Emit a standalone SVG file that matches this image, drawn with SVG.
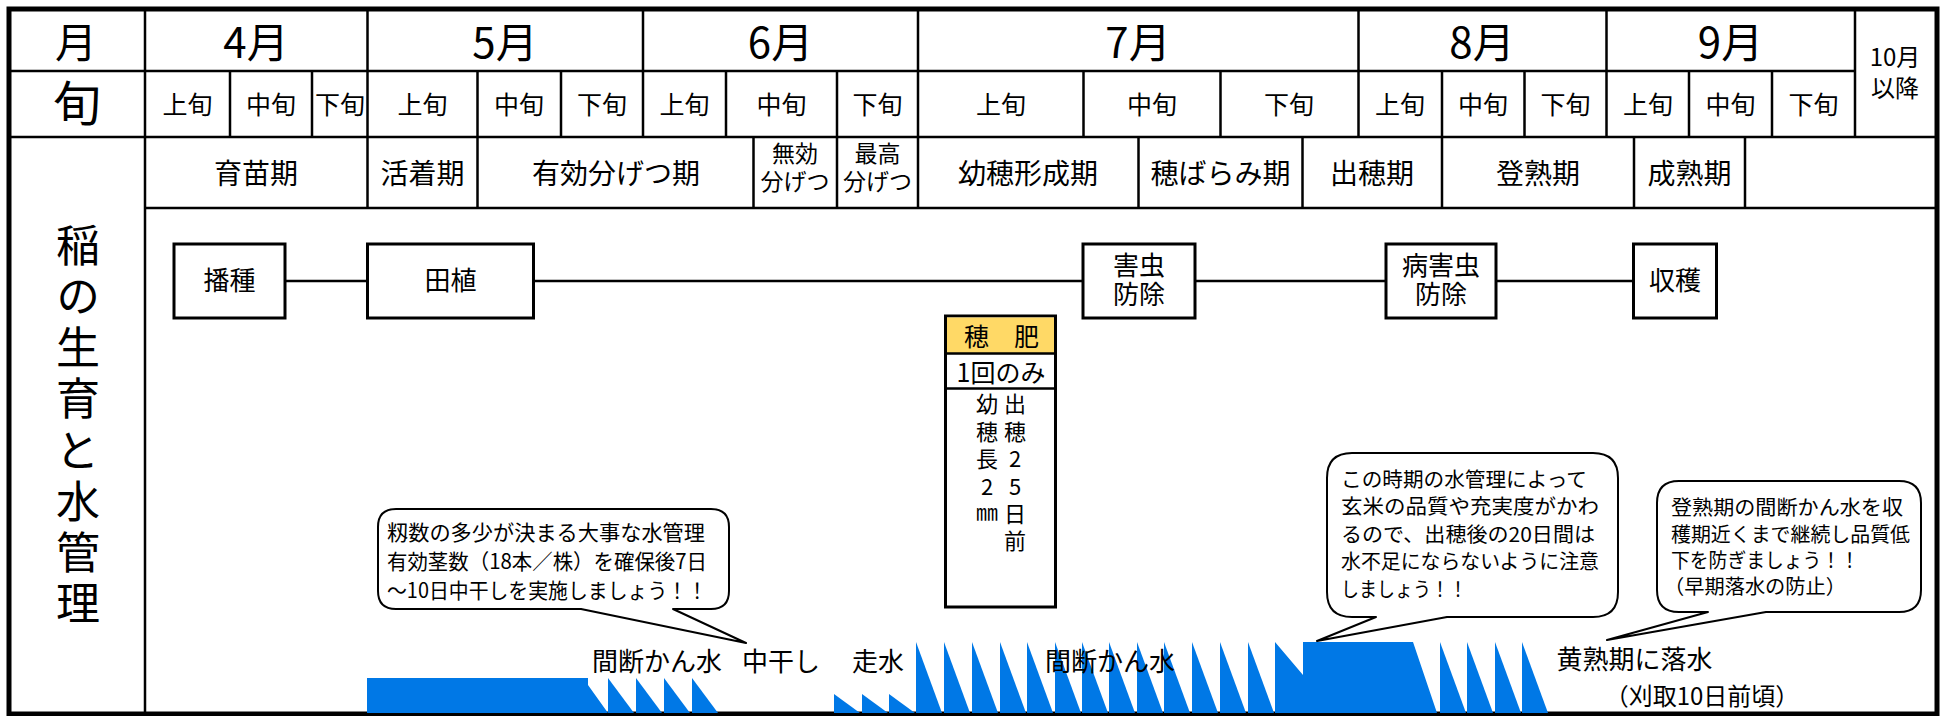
<svg xmlns="http://www.w3.org/2000/svg" width="1947" height="716" viewBox="0 0 1947 716">
<style>
.t{font-family:"Noto Sans CJK JP","Noto Sans",sans-serif;fill:#000}
.c{text-anchor:middle}
.v{writing-mode:vertical-rl;text-orientation:upright}
.ln{stroke:#000;stroke-width:2.5;fill:none}
.box{fill:#fff;stroke:#000;stroke-width:3}
.w{fill:#0078e6}
.bub{fill:#fff;stroke:#000;stroke-width:2;stroke-linejoin:round}
</style>
<rect width="1947" height="716" fill="#fff"/>
<g id="table">
<rect x="9" y="9" width="1928" height="705" fill="none" stroke="#000" stroke-width="5"/>
<path class="ln" d="M9,71H1855M9,137H1937M145,208H1937M145,9V714
M367.5,9V208M643,9V137M918,9V208M1358.5,9V137M1606.5,9V137M1855,9V137
M230,71V137M312,71V137M477.5,71V208M561,71V137M726,71V137M837,71V208M1083.5,71V137M1220.5,71V137M1442,71V208M1524.5,71V137M1689,71V137M1772,71V137
M753.5,137V208M1138.5,137V208M1302.5,137V208M1634,137V208M1745,137V208"/>
<g class="t c" font-size="42">
<text x="76" y="58">月</text>
<text x="256" y="58">4月</text>
<text x="505" y="58">5月</text>
<text x="780.5" y="58">6月</text>
<text x="1138" y="58">7月</text>
<text x="1482" y="58">8月</text>
<text x="1730.5" y="58">9月</text>
</g>
<text class="t c" x="77" y="121" font-size="48">旬</text>
<g class="t c" font-size="25">
<text x="187.5" y="114">上旬</text>
<text x="271" y="114">中旬</text>
<text x="340" y="114">下旬</text>
<text x="422.5" y="114">上旬</text>
<text x="519" y="114">中旬</text>
<text x="602" y="114">下旬</text>
<text x="684.5" y="114">上旬</text>
<text x="781.5" y="114">中旬</text>
<text x="877.5" y="114">下旬</text>
<text x="1001" y="114">上旬</text>
<text x="1152" y="114">中旬</text>
<text x="1289" y="114">下旬</text>
<text x="1400" y="114">上旬</text>
<text x="1483" y="114">中旬</text>
<text x="1565.5" y="114">下旬</text>
<text x="1648" y="114">上旬</text>
<text x="1730.5" y="114">中旬</text>
<text x="1813.5" y="114">下旬</text>
</g>
<g class="t c" font-size="24">
<text x="1895" y="66">10月</text>
<text x="1895" y="97">以降</text>
</g>
<g class="t c" font-size="28">
<text x="256" y="183.5">育苗期</text>
<text x="422.5" y="183.5">活着期</text>
<text x="616" y="183.5">有効分げつ期</text>
<text x="1028" y="183.5">幼穂形成期</text>
<text x="1220.5" y="183.5">穂ばらみ期</text>
<text x="1372" y="183.5">出穂期</text>
<text x="1538" y="183.5">登熟期</text>
<text x="1689.5" y="183.5">成熟期</text>
</g>
<g class="t c" font-size="23">
<text x="795" y="161.5">無効</text>
<text x="795" y="189.5">分げつ</text>
<text x="877.5" y="161.5">最高</text>
<text x="877.5" y="189.5">分げつ</text>
</g>
<text class="t v" x="78" y="223" font-size="44" style="letter-spacing:7.2px">稲の生育と水管理</text>
</g>
<g id="water">
<polygon class="w" points="367,678 588,678 588,685 608,713 367,713"/>
<polygon class="w" points="608,678 634,713 608,713"/>
<polygon class="w" points="636,678 662,713 636,713"/>
<polygon class="w" points="664,678 690,713 664,713"/>
<polygon class="w" points="692,678 718,713 692,713"/>
<polygon class="w" points="834,694 860,713 834,713"/>
<polygon class="w" points="862,694 888,713 862,713"/>
<polygon class="w" points="889,694 915,713 889,713"/>
<polygon class="w" points="916,642 942,713 916,713"/>
<polygon class="w" points="944,642 970,713 944,713"/>
<polygon class="w" points="972,642 998,713 972,713"/>
<polygon class="w" points="1000,642 1026,713 1000,713"/>
<polygon class="w" points="1027,642 1053,713 1027,713"/>
<polygon class="w" points="1055,642 1081,713 1055,713"/>
<polygon class="w" points="1082,642 1108,713 1082,713"/>
<polygon class="w" points="1109,642 1135,713 1109,713"/>
<polygon class="w" points="1137,642 1163,713 1137,713"/>
<polygon class="w" points="1164,642 1190,713 1164,713"/>
<polygon class="w" points="1192,642 1218,713 1192,713"/>
<polygon class="w" points="1220,642 1246,713 1220,713"/>
<polygon class="w" points="1248,642 1274,713 1248,713"/>
<polygon class="w" points="1275,642 1303,675 1303,642 1413,642 1437,713 1275,713"/>
<polygon class="w" points="1440,642 1466,713 1440,713"/>
<polygon class="w" points="1467,642 1493,713 1467,713"/>
<polygon class="w" points="1495,642 1521,713 1495,713"/>
<polygon class="w" points="1522,642 1548,713 1522,713"/>
</g>
<g id="water-labels" class="t c" font-size="26">
<text x="657" y="671">間断かん水</text>
<text x="781" y="671">中干し</text>
<text x="878" y="671">走水</text>
<text x="1110" y="671">間断かん水</text>
<text x="1634.5" y="669">黄熟期に落水</text>
<text x="1702" y="705" font-size="24">（刈取10日前頃）</text>
</g>
<g id="connectors">
<path class="ln" d="M286,281H367M534,281H1083M1195,281H1386M1496,281H1633"/>
</g>
<g id="node-seeding">
<rect class="box" x="174" y="244" width="111" height="74"/>
<text class="t c" x="229.5" y="290" font-size="26">播種</text>
</g>
<g id="node-planting">
<rect class="box" x="367.5" y="244" width="166" height="74"/>
<text class="t c" x="450.5" y="290" font-size="26">田植</text>
</g>
<g id="node-pest">
<rect class="box" x="1083" y="244" width="112" height="74"/>
<text class="t c" x="1139" y="275" font-size="26">害虫</text>
<text class="t c" x="1139" y="304" font-size="26">防除</text>
</g>
<g id="node-disease">
<rect class="box" x="1386" y="244" width="110" height="74"/>
<text class="t c" x="1441" y="275" font-size="26">病害虫</text>
<text class="t c" x="1441" y="304" font-size="26">防除</text>
</g>
<g id="node-harvest">
<rect class="box" x="1633.5" y="244" width="83" height="74"/>
<text class="t c" x="1675" y="290" font-size="26">収穫</text>
</g>
<g id="node-fertilizer">
<rect class="box" x="945.5" y="316" width="110" height="291"/>
<rect x="947" y="317.5" width="107" height="35.5" fill="#ffd966"/>
<path class="ln" d="M945.5,353.5H1055.5M945.5,388.5H1055.5" stroke-width="3"/>
<text class="t c" x="1001.5" y="345.5" font-size="25">穂　肥</text>
<text class="t c" x="1001" y="381.5" font-size="25">1回のみ</text>
<text class="t v" x="987" y="393" font-size="22" style="letter-spacing:5.4px">幼穂長2㎜</text>
<text class="t v" x="1015" y="393" font-size="22" style="letter-spacing:5.4px">出穂25日前</text>
</g>
<g id="bubble-midseason">
<path class="bub" d="M396,509H711Q729,509 729,527V591Q729,609 711,609H673L746,643L581,609H396Q378,609 378,591V527Q378,509 396,509Z"/>
<g class="t" font-size="21" lengthAdjust="spacingAndGlyphs">
<text x="387" y="540" textLength="318" lengthAdjust="spacingAndGlyphs">籾数の多少が決まる大事な水管理</text>
<text x="387" y="569" textLength="320" lengthAdjust="spacingAndGlyphs">有効茎数（18本／株）を確保後7日</text>
<text x="387" y="598" textLength="320" lengthAdjust="spacingAndGlyphs">～10日中干しを実施しましょう！！</text>
</g>
</g>
<g id="bubble-heading">
<path class="bub" d="M1352,453H1593Q1618,453 1618,478V592Q1618,617 1593,617H1447L1317,641L1376,617H1352Q1327,617 1327,592V478Q1327,453 1352,453Z"/>
<g class="t" font-size="20.5">
<text x="1341" y="486.8" textLength="246" lengthAdjust="spacingAndGlyphs">この時期の水管理によって</text>
<text x="1341" y="514.3" textLength="258" lengthAdjust="spacingAndGlyphs">玄米の品質や充実度がかわ</text>
<text x="1341" y="541.8" textLength="254" lengthAdjust="spacingAndGlyphs">るので、出穂後の20日間は</text>
<text x="1341" y="568.8" textLength="258" lengthAdjust="spacingAndGlyphs">水不足にならないように注意</text>
<text x="1341" y="596.8" textLength="126" lengthAdjust="spacingAndGlyphs">しましょう！！</text>
</g>
</g>
<g id="bubble-ripening">
<path class="bub" d="M1679,481H1899Q1921,481 1921,503V590Q1921,612 1899,612H1766L1607,640L1708,612H1679Q1657,612 1657,590V503Q1657,481 1679,481Z"/>
<g class="t" font-size="20">
<text x="1671" y="514.6" textLength="232" lengthAdjust="spacingAndGlyphs">登熟期の間断かん水を収</text>
<text x="1671" y="541.6" textLength="239" lengthAdjust="spacingAndGlyphs">穫期近くまで継続し品質低</text>
<text x="1671" y="567.6" textLength="188" lengthAdjust="spacingAndGlyphs">下を防ぎましょう！！</text>
<text x="1664" y="593.6" textLength="182" lengthAdjust="spacingAndGlyphs">（早期落水の防止）</text>
</g>
</g>
</svg>
